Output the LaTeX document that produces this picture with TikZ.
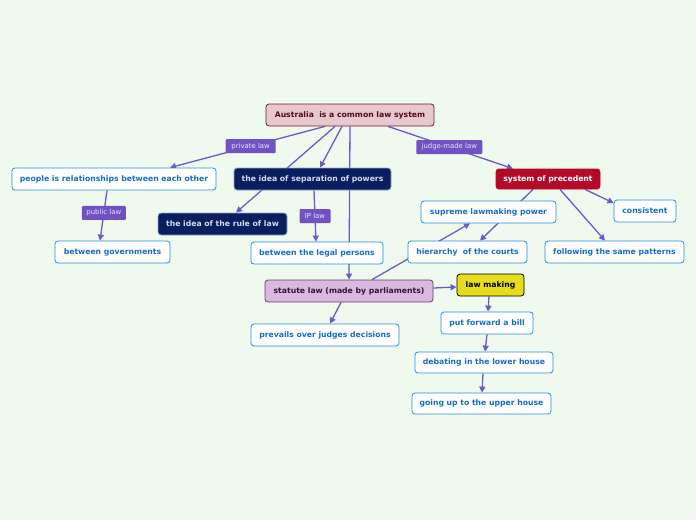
\documentclass[tikz,border=0pt]{standalone}
\usepackage{fontspec}
\setmainfont{DejaVu Sans}
\usetikzlibrary{arrows.meta}
\definecolor{bgmint}{RGB}{240,249,237}
\definecolor{linkpurple}{RGB}{106,90,205}
\definecolor{tagpurple}{RGB}{112,82,196}
\definecolor{tagtext}{RGB}{232,228,250}
\definecolor{rootfill}{RGB}{232,200,206}
\definecolor{rootdraw}{RGB}{110,30,40}
\definecolor{roottext}{RGB}{80,10,20}
\definecolor{navyfill}{RGB}{10,30,95}
\definecolor{navydraw}{RGB}{140,170,200}
\definecolor{navytext}{RGB}{210,220,235}
\definecolor{crimson}{RGB}{180,10,40}
\definecolor{leafdraw}{RGB}{40,140,230}
\definecolor{leaftext}{RGB}{20,110,210}
\definecolor{statfill}{RGB}{218,184,224}
\definecolor{statdraw}{RGB}{100,60,110}
\definecolor{stattext}{RGB}{50,20,60}
\definecolor{lawyellow}{RGB}{230,220,30}
\pgfdeclarelayer{bg}
\pgfdeclarelayer{edges}
\pgfsetlayers{bg,edges,main}

\begin{document}
\begin{tikzpicture}[x=1pt,y=-1pt]
  \tikzstyle{topic}=[rectangle,rounded corners=3pt,minimum height=22pt,inner sep=0pt,line width=0.8pt,font=\bfseries\fontsize{7.7}{9}\selectfont]
  \tikzstyle{leaf}=[topic,draw=leafdraw,fill=white,text=leaftext]
  \tikzstyle{navy}=[topic,draw=navydraw,fill=navyfill,text=navytext]
  \tikzstyle{tag}=[rectangle,rounded corners=1pt,fill=tagpurple,text=tagtext,inner sep=0pt,minimum height=14pt,font=\fontsize{6.9}{8}\selectfont]
  \tikzstyle{link}=[draw=linkpurple,line width=1.3pt,-{Triangle[length=6pt,width=6pt]}]
  \begin{pgfonlayer}{bg}
    \fill[bgmint] (0,0) rectangle (696,520);
  \end{pgfonlayer}
  \useasboundingbox (0,0) rectangle (696,520);
  % central topic
  \node[topic,draw=rootdraw,fill=rootfill,text=roottext,minimum width=168pt] (root) at (350,115) {Australia~ is a common law system};
  % first level
  \node[leaf,minimum width=204pt] (people) at (114,179) {people is relationships between each other};
  \node[navy,minimum width=157pt] (sep) at (312.5,179) {the idea of separation of powers};
  \node[topic,draw=crimson,fill=crimson,text=white,minimum width=104pt,minimum height=20pt] (prec) at (548,179) {system of precedent};
  \node[navy,minimum width=129pt] (rule) at (222.5,224) {the idea of the rule of law};
  \node[topic,draw=statdraw,fill=statfill,text=stattext,minimum width=168pt] (statute) at (349,291) {statute law (made by parliaments)};
  % second level
  \node[leaf,minimum width=115pt] (gov) at (112.5,252) {between governments};
  \node[leaf,minimum width=132pt] (legal) at (317,253) {between the legal persons};
  \node[leaf,minimum width=135pt] (supreme) at (488.5,212) {supreme lawmaking power};
  \node[leaf,minimum width=62pt] (cons) at (645,211) {consistent};
  \node[leaf,minimum width=119pt] (hier) at (467.5,252) {hierarchy~ of the courts};
  \node[leaf,minimum width=139pt] (follow) at (614.5,252) {following the same patterns};
  \node[topic,draw=black,fill=lawyellow,text=black,minimum width=67pt] (lawmk) at (490.5,285) {law making};
  \node[leaf,minimum width=148pt] (prev) at (325,335) {prevails over judges decisions};
  \node[leaf,minimum width=92pt] (bill) at (487,323) {put forward a bill};
  \node[leaf,minimum width=138pt,minimum height=21pt] (deb) at (484,362.5) {debating in the lower house};
  \node[leaf,minimum width=139pt,minimum height=21pt] (upper) at (481.5,403.5) {going up to the upper house};
  % connectors
  \begin{pgfonlayer}{edges}
    \draw[link] ([xshift=-25pt]root.south) -- node[tag,minimum width=50pt,pos=0.48] {private law} ([xshift=56pt]people.north);
    \draw[link] ([xshift=-15pt]root.south) -- ([xshift=13.5pt]rule.north);
    \draw[link] ([xshift=-8pt]root.south) -- ([xshift=7.5pt]sep.north);
    \draw[link] (root.south) -- (statute.north);
    \draw[link] ([xshift=38pt]root.south) -- node[tag,minimum width=66pt,pos=0.49] {judge-made law} ([xshift=-35pt]prec.north);
    \draw[link] ([xshift=-7pt]people.south) -- node[tag,minimum width=44pt,pos=0.45] {public law} ([xshift=-12.5pt]gov.north);
    \draw[link] ([xshift=1.5pt]sep.south) -- node[tag,minimum width=31pt,pos=0.5] {IP law} ([xshift=-1pt]legal.north);
    \draw[link] ([xshift=37pt]prec.south) -- ([yshift=8pt]cons.west);
    \draw[link] ([xshift=12pt]prec.south) -- ([xshift=-9.5pt]follow.north);
    \draw[link] ([xshift=-15pt]prec.south) -- ([xshift=12.5pt]hier.north);
    \draw[link] ([xshift=23pt]statute.north) -- ([xshift=-18.5pt]supreme.south);
    \draw[link] ([yshift=3pt]statute.east) -- ([yshift=-2pt]lawmk.west);
    \draw[link] ([xshift=-8pt]statute.south) -- ([xshift=5pt]prev.north);
    \draw[link] ([xshift=-1.5pt]lawmk.south) -- ([xshift=1pt]bill.north);
    \draw[link] (bill.south) -- ([xshift=1pt]deb.north);
    \draw[link] ([xshift=-1pt]deb.south) -- ([xshift=0.5pt]upper.north);
  \end{pgfonlayer}
\end{tikzpicture}
\end{document}
